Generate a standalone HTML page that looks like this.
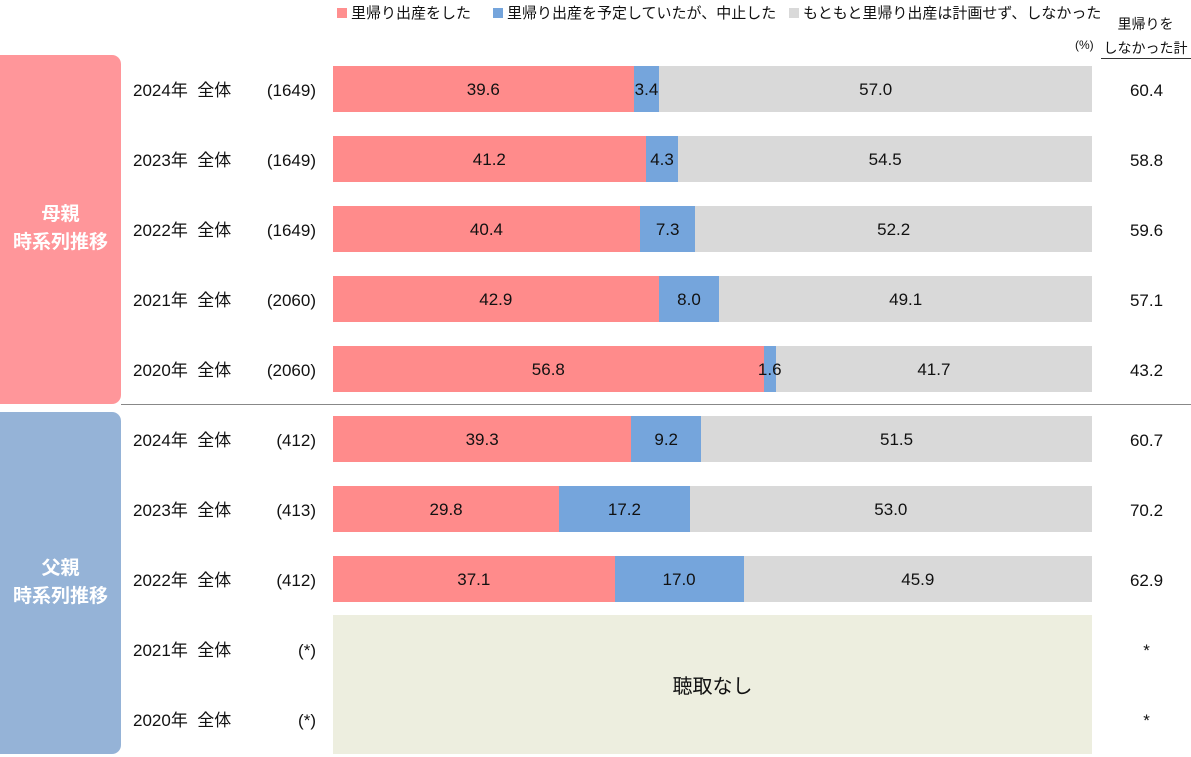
<!DOCTYPE html>
<html><head><meta charset="utf-8"><style>
body{margin:0;width:1191px;height:757px;background:#fff;position:relative;overflow:hidden;font-family:"Liberation Sans","Noto Sans CJK JP",sans-serif;color:#111}
div{position:absolute}
.seg{top:0;height:46px;line-height:48px;text-align:center;font-size:17px;white-space:nowrap;overflow:visible}
.lbl{font-size:17px;white-space:nowrap;height:24px;line-height:24px}
.tot{left:1100px;width:93px;text-align:center;font-size:17px;height:24px;line-height:24px}
.box{color:#fff;font-weight:bold;font-size:19px;text-align:center;line-height:28px;border-radius:0 9px 9px 0}
.leg{top:4px;font-size:15px;white-space:nowrap;line-height:20px}
.sq{display:inline-block;width:10px;height:10px;margin-right:4px;vertical-align:0}
</style></head><body>
<div class="leg" style="left:337px"><span class="sq" style="background:#FF8F8F"></span>里帰り出産をした</div>
<div class="leg" style="left:493px"><span class="sq" style="background:#75A5DC"></span>里帰り出産を予定していたが、中止した</div>
<div class="leg" style="left:789px"><span class="sq" style="background:#D9D9D9"></span>もともと里帰り出産は計画せず、しなかった</div>
<div style="left:1075px;top:38px;font-size:12px">(%)</div>
<div style="left:1100px;top:12px;width:91px;text-align:center;font-size:14px;line-height:24px;white-space:nowrap"><span>里帰りを</span><br><span style="border-bottom:1px solid #333;padding:0 3px 2px">しなかった計</span></div>
<div class="box" style="left:0;top:55px;width:121px;height:349px;background:#FF969A"><div style="top:146px;left:0;width:121px">母親<br>時系列推移</div></div>
<div class="box" style="left:0;top:412px;width:121px;height:342px;background:#95B3D7"><div style="top:143px;left:0;width:121px">父親<br>時系列推移</div></div>
<div style="left:121px;top:404px;width:1070px;height:1px;background:#888"></div>
<div style="left:333px;top:615px;width:759px;height:139px;background:#EDEEDF"></div>
<div style="left:333px;top:673px;width:759px;text-align:center;font-size:20px;line-height:28px">聴取なし</div>
<div id="rows"></div>
<script>
var d=[["2024年","(1649)",39.6,3.4,57.0,"60.4"],["2023年","(1649)",41.2,4.3,54.5,"58.8"],["2022年","(1649)",40.4,7.3,52.2,"59.6"],["2021年","(2060)",42.9,8.0,49.1,"57.1"],["2020年","(2060)",56.8,1.6,41.7,"43.2"],["2024年","(412)",39.3,9.2,51.5,"60.7"],["2023年","(413)",29.8,17.2,53.0,"70.2"],["2022年","(412)",37.1,17.0,45.9,"62.9"],["2021年","(*)",0,0,0,"*"],["2020年","(*)",0,0,0,"*"]];
var h="";var W=759;
d.forEach(function(r,i){var y=66+i*70;var c=y+25;
h+='<div class="lbl" style="left:133px;top:'+(c-12)+'px">'+r[0]+'&nbsp;&nbsp;全体</div>';
h+='<div class="lbl" style="left:240px;width:76px;text-align:right;top:'+(c-12)+'px">'+r[1]+'</div>';
h+='<div class="tot" style="top:'+(c-12)+'px">'+r[5]+'</div>';
if(r[2]){var s=r[2]+r[3]+r[4];var a=W*r[2]/s,b=W*r[3]/s;
h+='<div style="left:333px;top:'+y+'px;width:'+W+'px;height:46px">';
h+='<div class="seg" style="left:0;width:'+a+'px;background:#FF8B8B">'+r[2].toFixed(1)+'</div>';
h+='<div class="seg" style="left:'+(a+b)+'px;width:'+(W-a-b)+'px;background:#D9D9D9">'+r[4].toFixed(1)+'</div>';
h+='<div class="seg" style="left:'+a+'px;width:'+b+'px;background:#75A5DC;display:flex;justify-content:center"><span>'+r[3].toFixed(1)+'</span></div></div>';}
});
document.getElementById("rows").outerHTML=h;
</script>
</body></html>
